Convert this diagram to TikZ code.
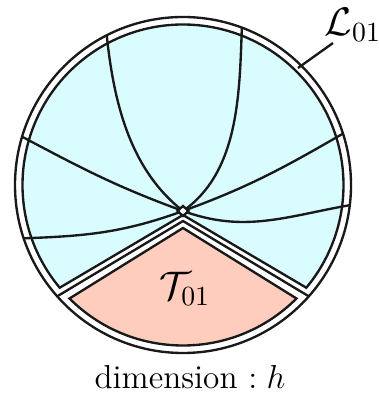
\documentclass[tikz,border=0pt]{standalone}
\usepackage{amsmath}
\usepackage{amssymb}
\usepackage{tikz}
\usetikzlibrary{positioning,calc}
\definecolor{cellblue}{RGB}{217,252,255}
\definecolor{cellpink}{RGB}{255,205,190}

\begin{document}
\begin{tikzpicture}[
        x=0.0127cm, y=0.0127cm,
        font=\large,
        edge/.style={line width=0.85pt, black!90},
        cell/.style={edge},
        geo/.style={line width=0.85pt, black!90},
        tag/.style={font=\Large, inner sep=1pt},
    ]
    \def\R{168} \def\r{160.5}
    \useasboundingbox (-183,-209) rectangle (195,185);
    \draw[edge] (0,0) circle[radius=\R];
    \draw[cell, fill=cellblue] (0,-30) -- (219.8:\r)
        arc[start angle=219.8, end angle=-39.8, radius=\r] -- cycle;
    \draw[cell, fill=cellpink] (0,-43) -- (225:\r)
        arc[start angle=225, end angle=315, radius=\r] -- cycle;
    \coordinate (apex) at (0,-36);
    \coordinate (ml) at (221.5:\R);
    \coordinate (mr) at (-41.5:\R);
    \draw[edge] (ml) -- (apex) -- (mr);
    \coordinate (v) at (0,-26);
    \foreach \o/\i/\a/\l in {142/-84/117/0.9, 35/-92/69.5/0.9, 160/-28/163.3/1,
                             -20/190/-6.9/1, 200/2/198.5/1, 20/210/17.8/1} {
        \coordinate (end) at (\a:\R);
        \draw[geo] (v) to[out=\o, in=\i, looseness=\l] (end);
    }
    \draw[edge, fill=white] (0,-21) -- (5.5,-26) -- (0,-31) -- (-5.5,-26) -- cycle;
    \node[tag] (T) at (2,-104) {$\mathcal{T}_{01}$};
    \node[tag] (lbl) at (170,160) {$\mathcal{L}_{01}$};
    \coordinate (lblfoot) at (150,142);
    \coordinate (tick) at (45.5:164);
    \draw[edge] (lblfoot) -- (tick);
    \node[anchor=base] (dim) at (7,-203) {dimension $: h$};
\end{tikzpicture}
\end{document}
